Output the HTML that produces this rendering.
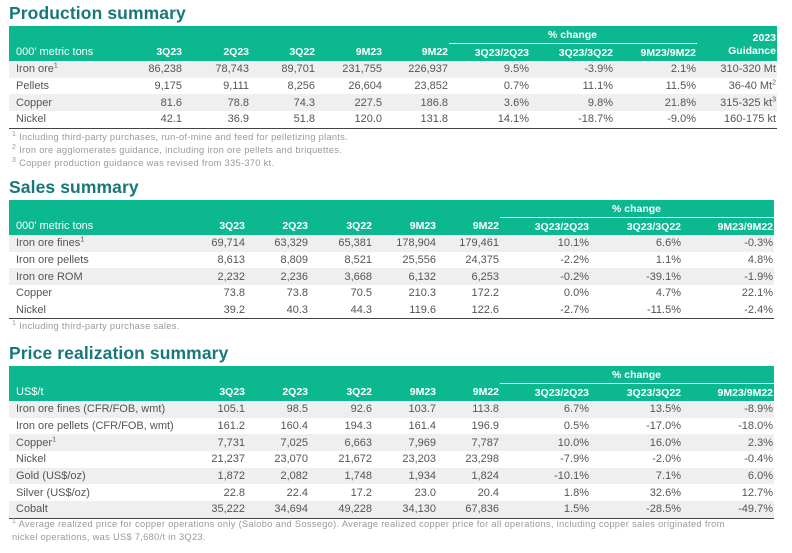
<!DOCTYPE html>
<html><head><meta charset="utf-8"><style>
body{margin:0;width:792px;height:553px;background:#fff;font-family:"Liberation Sans",Arial,sans-serif;position:relative;overflow:hidden}
h1{position:absolute;left:9px;margin:0;font-size:17.5px;color:#17787a;font-weight:bold;letter-spacing:0.1px}
table{position:absolute;left:9px;border-collapse:collapse;table-layout:fixed;font-size:11px;color:#555}
td{padding:0 1px 0 0;text-align:right;white-space:nowrap;height:16.7px;line-height:16px}
td:first-child{text-align:left;padding-left:7px}
tr.h td{background:#0bb890;color:#fff;font-weight:bold;font-size:10.5px;height:17px}
tr.h td:first-child{font-weight:normal;font-size:11px}
tr.s td{background:#efefef}
tr.last td{border-bottom:1.6px solid #444}
.pc{text-align:center!important;border-bottom:1px solid #fff}
.fn{position:absolute;left:12px;font-size:9.3px;color:#999;line-height:13px;letter-spacing:0.3px}
sup{font-size:7px;line-height:0}
</style></head><body>
<h1 style="top:3px">Production summary</h1>
<table style="top:26px;width:768px">
<colgroup><col style="width:111px"><col style="width:63px"><col style="width:67px"><col style="width:66px"><col style="width:67px"><col style="width:66px"><col style="width:81px"><col style="width:84px"><col style="width:83px"><col style="width:80px"></colgroup>
<tr class="h"><td></td><td></td><td></td><td></td><td></td><td></td><td colspan="3" class="pc">% change</td><td rowspan="2" style="vertical-align:bottom;line-height:13px;padding-bottom:3px">2023<br>Guidance</td></tr>
<tr class="h"><td>000' metric tons</td><td>3Q23</td><td>2Q23</td><td>3Q22</td><td>9M23</td><td>9M22</td><td>3Q23/2Q23</td><td>3Q23/3Q22</td><td>9M23/9M22</td></tr>
<tr class="s"><td>Iron ore<sup>1</sup></td><td>86,238</td><td>78,743</td><td>89,701</td><td>231,755</td><td>226,937</td><td>9.5%</td><td>-3.9%</td><td>2.1%</td><td>310-320 Mt</td></tr>
<tr><td>Pellets</td><td>9,175</td><td>9,111</td><td>8,256</td><td>26,604</td><td>23,852</td><td>0.7%</td><td>11.1%</td><td>11.5%</td><td>36-40 Mt<sup>2</sup></td></tr>
<tr class="s"><td>Copper</td><td>81.6</td><td>78.8</td><td>74.3</td><td>227.5</td><td>186.8</td><td>3.6%</td><td>9.8%</td><td>21.8%</td><td>315-325 kt<sup>3</sup></td></tr>
<tr class="last"><td>Nickel</td><td>42.1</td><td>36.9</td><td>51.8</td><td>120.0</td><td>131.8</td><td>14.1%</td><td>-18.7%</td><td>-9.0%</td><td>160-175 kt</td></tr>
</table>
<div class="fn" style="top:131px"><sup>1</sup> Including third-party purchases, run-of-mine and feed for pelletizing plants.<br><sup>2</sup> Iron ore agglomerates guidance, including iron ore pellets and briquettes.<br><sup>3</sup> Copper production guidance was revised from 335-370 kt.</div>

<h1 style="top:177px">Sales summary</h1>
<table style="top:200px;width:765px">
<colgroup><col style="width:171px"><col style="width:66px"><col style="width:63px"><col style="width:64px"><col style="width:64px"><col style="width:63px"><col style="width:90px"><col style="width:92px"><col style="width:92px"></colgroup>
<tr class="h"><td></td><td></td><td></td><td></td><td></td><td></td><td colspan="3" class="pc">% change</td></tr>
<tr class="h"><td>000' metric tons</td><td>3Q23</td><td>2Q23</td><td>3Q22</td><td>9M23</td><td>9M22</td><td>3Q23/2Q23</td><td>3Q23/3Q22</td><td>9M23/9M22</td></tr>
<tr class="s"><td>Iron ore fines<sup>1</sup></td><td>69,714</td><td>63,329</td><td>65,381</td><td>178,904</td><td>179,461</td><td>10.1%</td><td>6.6%</td><td>-0.3%</td></tr>
<tr><td>Iron ore pellets</td><td>8,613</td><td>8,809</td><td>8,521</td><td>25,556</td><td>24,375</td><td>-2.2%</td><td>1.1%</td><td>4.8%</td></tr>
<tr class="s"><td>Iron ore ROM</td><td>2,232</td><td>2,236</td><td>3,668</td><td>6,132</td><td>6,253</td><td>-0.2%</td><td>-39.1%</td><td>-1.9%</td></tr>
<tr><td>Copper</td><td>73.8</td><td>73.8</td><td>70.5</td><td>210.3</td><td>172.2</td><td>0.0%</td><td>4.7%</td><td>22.1%</td></tr>
<tr class="last"><td>Nickel</td><td>39.2</td><td>40.3</td><td>44.3</td><td>119.6</td><td>122.6</td><td>-2.7%</td><td>-11.5%</td><td>-2.4%</td></tr>
</table>
<div class="fn" style="top:320px"><sup>1</sup> Including third-party purchase sales.</div>

<h1 style="top:343px">Price realization summary</h1>
<table style="top:366px;width:765px">
<colgroup><col style="width:171px"><col style="width:66px"><col style="width:63px"><col style="width:64px"><col style="width:64px"><col style="width:63px"><col style="width:90px"><col style="width:92px"><col style="width:92px"></colgroup>
<tr class="h"><td></td><td></td><td></td><td></td><td></td><td></td><td colspan="3" class="pc">% change</td></tr>
<tr class="h"><td>US$/t</td><td>3Q23</td><td>2Q23</td><td>3Q22</td><td>9M23</td><td>9M22</td><td>3Q23/2Q23</td><td>3Q23/3Q22</td><td>9M23/9M22</td></tr>
<tr class="s"><td>Iron ore fines (CFR/FOB, wmt)</td><td>105.1</td><td>98.5</td><td>92.6</td><td>103.7</td><td>113.8</td><td>6.7%</td><td>13.5%</td><td>-8.9%</td></tr>
<tr><td>Iron ore pellets (CFR/FOB, wmt)</td><td>161.2</td><td>160.4</td><td>194.3</td><td>161.4</td><td>196.9</td><td>0.5%</td><td>-17.0%</td><td>-18.0%</td></tr>
<tr class="s"><td>Copper<sup>1</sup></td><td>7,731</td><td>7,025</td><td>6,663</td><td>7,969</td><td>7,787</td><td>10.0%</td><td>16.0%</td><td>2.3%</td></tr>
<tr><td>Nickel</td><td>21,237</td><td>23,070</td><td>21,672</td><td>23,203</td><td>23,298</td><td>-7.9%</td><td>-2.0%</td><td>-0.4%</td></tr>
<tr class="s"><td>Gold (US$/oz)</td><td>1,872</td><td>2,082</td><td>1,748</td><td>1,934</td><td>1,824</td><td>-10.1%</td><td>7.1%</td><td>6.0%</td></tr>
<tr><td>Silver (US$/oz)</td><td>22.8</td><td>22.4</td><td>17.2</td><td>23.0</td><td>20.4</td><td>1.8%</td><td>32.6%</td><td>12.7%</td></tr>
<tr class="s last"><td>Cobalt</td><td>35,222</td><td>34,694</td><td>49,228</td><td>34,130</td><td>67,836</td><td>1.5%</td><td>-28.5%</td><td>-49.7%</td></tr>
</table>
<div class="fn" style="top:518px"><sup>1</sup> Average realized price for copper operations only (Salobo and Sossego). Average realized copper price for all operations, including copper sales originated from<br>nickel operations, was US$ 7,680/t in 3Q23.</div>
</body></html>
